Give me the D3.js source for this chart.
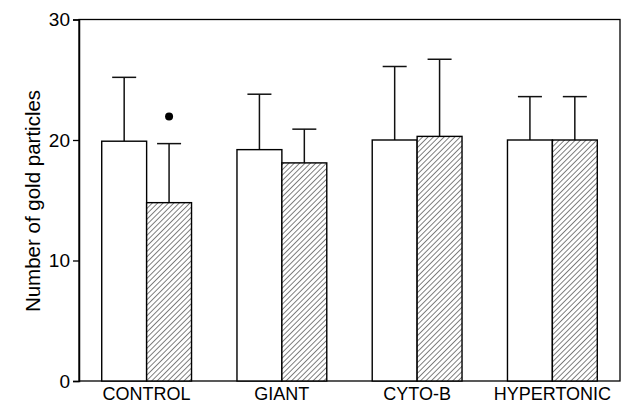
<!DOCTYPE html>
<html>
<head>
<meta charset="utf-8">
<script src="https://cdn.jsdelivr.net/npm/d3@7"></script>
<style>
  body { margin: 0; background: #fff; }
  text { font-family: "Liberation Sans", Arial, sans-serif; fill: #000; }
</style>
</head>
<body>
<svg width="623" height="403"></svg>
<script>
const categories = ["CONTROL", "GIANT", "CYTO-B", "HYPERTONIC"];
const openMeans = [19.9, 19.2, 20.0, 20.0];
const openErr = [25.2, 23.8, 26.1, 23.6];
const hatchMeans = [14.8, 18.1, 20.3, 20.0];
const hatchErr = [19.7, 20.9, 26.7, 23.6];
const yTicks = [0, 10, 20, 30];
const starGroup = ["CONTROL"];

const svg = d3.select("svg");
const mLeft = 79, mRight = 620, mTop = 19.5, mBottom = 381;

const x = d3.scaleBand()
  .domain(categories)
  .range([mLeft, mRight])
  .paddingInner(0.336)
  .paddingOuter(0.168);

const y = d3.scaleLinear().domain([0, 30]).range([mBottom, mTop]);

// hatch pattern
const defs = svg.append("defs");
const pat = defs.append("pattern")
  .attr("id", "hatch")
  .attr("patternUnits", "userSpaceOnUse")
  .attr("width", 3.8).attr("height", 3.8)
  .attr("patternTransform", "rotate(45)");
pat.append("rect").attr("width", 3.8).attr("height", 3.8).attr("fill", "#fff");
pat.append("line")
  .attr("x1", 0).attr("y1", 0).attr("x2", 0).attr("y2", 3.8)
  .attr("stroke", "#000").attr("stroke-width", 1);

// frame
svg.append("rect")
  .attr("x", mLeft).attr("y", mTop)
  .attr("width", mRight - mLeft).attr("height", mBottom - mTop)
  .attr("fill", "none").attr("stroke", "#000").attr("stroke-width", 1.3);

// y axis
const yAxis = svg.append("g")
  .attr("transform", "translate(" + mLeft + ",0)")
  .call(d3.axisLeft(y).tickValues(yTicks).tickSize(6).tickPadding(3));
yAxis.select(".domain").attr("stroke-width", 1.5);
yAxis.selectAll("line").attr("stroke-width", 1.3);
yAxis.selectAll("text").style("font-size", "19px").attr("font-family", "Liberation Sans, Arial, sans-serif");

svg.append("text")
  .attr("transform", "translate(39.5,201) rotate(-90)")
  .attr("text-anchor", "middle")
  .style("font-size", "20.5px")
  .text("Number of gold particles");

// x labels
svg.selectAll(".xlab")
  .data(categories)
  .enter().append("text")
  .attr("class", "xlab")
  .attr("x", d => x(d) + x.bandwidth() / 2)
  .attr("y", 400)
  .attr("text-anchor", "middle")
  .style("font-size", "18px")
  .text(d => d);

const bw = x.bandwidth() / 2;
const capW = 24;

function drawSeries(means, errs, offset, fill) {
  const g = svg.append("g");
  categories.forEach((c, i) => {
    const cx = x(c) + offset + bw / 2;
    g.append("line")
      .attr("x1", cx).attr("x2", cx)
      .attr("y1", y(means[i])).attr("y2", y(errs[i]))
      .attr("stroke", "#111").attr("stroke-width", 1.5);
    g.append("line")
      .attr("x1", cx - capW / 2).attr("x2", cx + capW / 2)
      .attr("y1", y(errs[i])).attr("y2", y(errs[i]))
      .attr("stroke", "#111").attr("stroke-width", 1.5);
    g.append("rect")
      .attr("x", x(c) + offset)
      .attr("y", y(means[i]))
      .attr("width", bw)
      .attr("height", y(0) - y(means[i]))
      .attr("fill", fill)
      .attr("stroke", "#000")
      .attr("stroke-width", 1.4);
  });
}

drawSeries(openMeans, openErr, 0, "#fff");
drawSeries(hatchMeans, hatchErr, bw, "url(#hatch)");

// significance marker
svg.selectAll(".star")
  .data(starGroup)
  .enter().append("circle")
  .attr("cx", d => x(d) + bw * 1.5)
  .attr("cy", d => y(hatchErr[categories.indexOf(d)]) - 27)
  .attr("r", 4)
  .attr("fill", "#000");
</script>
</body>
</html>
